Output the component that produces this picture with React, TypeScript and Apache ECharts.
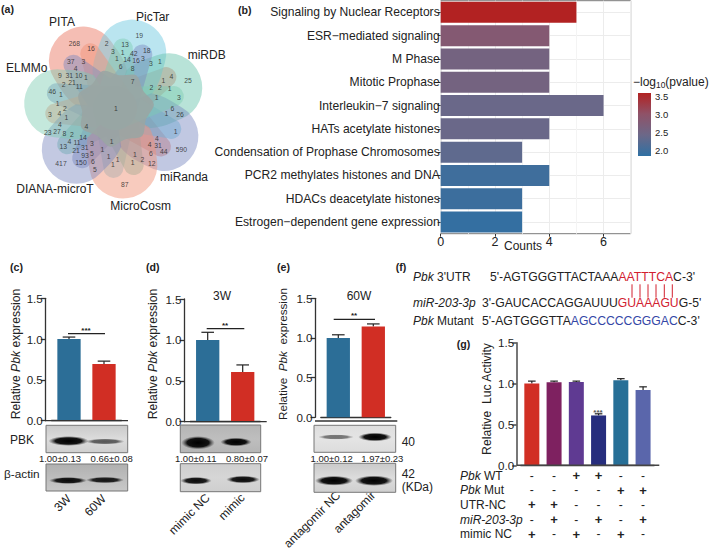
import React, { useEffect, useRef } from "react";
import * as echarts from "echarts";

const FONT = "Liberation Sans";
const DARK = "#222";

// (a) Venn
const vennSets = ["PITA", "PicTar", "miRDB", "miRanda", "MicroCosm", "DIANA-microT", "ELMMo"];
const vennColors = ["rgba(236,130,112,0.52)", "rgba(122,205,226,0.52)", "rgba(104,196,172,0.47)", "rgba(118,134,190,0.45)", "rgba(240,146,120,0.48)", "rgba(122,136,190,0.45)", "rgba(124,204,178,0.45)"];
const vennCounts = [19, 268, 16, 2, 13, 3, 1, 42, 18, 37, 3, 1, 14, 16, 3, 3, 1, 4, 6, 8, 9, 31, 10, 1, 4, 25, 7, 1, 2, 21, 11, 2, 2, 1, 46, 1, 1, 3, 1, 2, 1, 6, 3, 4, 1, 1, 26, 4, 4, 23, 27, 8, 2, 1, 4, 14, 4, 11, 1, 13, 3, 4, 31, 21, 31, 1, 590, 93, 5, 6, 44, 1, 1, 6, 150, 417, 1, 2, 1, 12, 1, 5, 87];
const vennLayoutX = [418, 223, 273, 320, 375, 339, 368, 401, 440, 212, 250, 351, 381, 408, 429, 453, 480, 227, 362, 398, 180, 208, 236, 258, 514, 564, 398, 490, 191, 216, 238, 454, 480, 509, 157, 183, 470, 537, 173, 195, 348, 517, 150, 178, 199, 499, 540, 180, 259, 143, 171, 193, 216, 527, 208, 249, 471, 231, 335, 190, 276, 449, 474, 228, 254, 307, 544, 255, 276, 453, 491, 405, 326, 279, 243, 183, 353, 427, 398, 455, 339, 285, 374];
const vennLayoutY = [105, 130, 145, 130, 133, 155, 157, 160, 152, 183, 183, 176, 179, 182, 175, 190, 184, 204, 198, 206, 226, 226, 226, 233, 229, 241, 243, 240, 252, 247, 260, 261, 261, 265, 274, 282, 291, 292, 311, 325, 324, 325, 342, 340, 351, 339, 342, 372, 378, 397, 395, 400, 403, 394, 425, 412, 415, 427, 425, 438, 431, 433, 436, 450, 442, 449, 447, 466, 459, 461, 453, 463, 470, 484, 488, 490, 479, 478, 486, 490, 493, 509, 554];

// (b) pathways
const pathways = ["Signaling by Nuclear Receptors", "ESR−mediated signaling", "M Phase", "Mitotic Prophase", "Interleukin−7 signaling", "HATs acetylate histones", "Condensation of Prophase Chromosomes", "PCR2 methylates histones and DNA", "HDACs deacetylate histones", "Estrogen−dependent gene expression"];
const pathwayCounts = [5, 4, 4, 4, 6, 4, 3, 4, 3, 3];
const pathwayLogP = [3.6, 2.85, 2.6, 2.6, 2.45, 2.45, 2.35, 2.05, 2.02, 1.95];
const colorTicks = [3.5, 3.0, 2.5, 2.0];
const colorStops = ["#2f70a3", "#6c6888", "#8f5268", "#b22222"];

// (c) (d) (e) qPCR
const cCats = ["3W", "60W"]; const cVals = [1.0, 0.695]; const cErr = [1.025, 0.73];
const dCats = ["mimic NC", "mimic"]; const dVals = [1.0, 0.608]; const dErr = [1.093, 0.694];
const eCats = ["antagomir NC", "antagomir"]; const eVals = [1.0, 1.145]; const eErr = [1.04, 1.177];
const cBlot = ["1.00±0.13", "0.66±0.08"]; const dBlot = ["1.00±0.11", "0.80±0.07"]; const eBlot = ["1.00±0.12", "1.97±0.23"];

// (g) luciferase
const gCats = ["1", "2", "3", "4", "5", "6"];
const gVals = [1.0, 1.015, 1.02, 0.61, 1.04, 0.92];
const gErr = [1.03, 1.03, 1.03, 0.63, 1.06, 0.96];
const gColors = ["#d12f24", "#7e2160", "#5f3a92", "#262d7d", "#276f97", "#5a66ab"];
const gRowNames = ["{i|Pbk} WT", "{i|Pbk} Mut", "UTR-NC", "{i|miR-203-3p}", "mimic NC"];
const gRows = [["-", "-", "+", "+", "-", "-"], ["-", "-", "-", "-", "+", "+"], ["+", "+", "-", "-", "-", "-"], ["-", "+", "-", "+", "-", "+"], ["+", "-", "+", "-", "+", "-"]];

const BLUE = "#2c6e97";
const RED = "#d12e24";

function capsule(deg: number, len: number, a: number, b: number) {
  const t = (deg * Math.PI) / 180;
  const dx = Math.sin(t), dy = -Math.cos(t);
  const nx = dy, ny = -dx;
  const ex = dx * len, ey = dy * len;
  return `M${nx * a} ${ny * a}L${ex + nx * b} ${ey + ny * b}A${b} ${b} 0 0 1 ${ex - nx * b} ${ey - ny * b}L${-nx * a} ${-ny * a}A${a} ${a} 0 0 1 ${nx * a} ${ny * a}Z`;
}
const lobe = "M0 0L-31 -24C-36 -38 -34 -48 -34 -58A34 33 0 0 1 34 -58C34 -48 36 -38 31 -24Z";
const petal = [lobe, capsule(93, 60, 22, 10), capsule(164, 60, 22, 10)].join("");
echarts.graphic.registerShape("vennPetal", echarts.graphic.extendPath(petal, {}) as any);

function T(text: string, x: number, y: number, o: any = {}) {
  const size = o.size ?? 12;
  const fw = o.bold ? "bold" : "normal";
  return {
    type: "text", x, y, z: o.z ?? 5, rotation: o.rot ?? 0,
    style: {
      text, fontFamily: FONT, fontSize: size, fontWeight: fw, fontStyle: o.italic ? "italic" : "normal",
      fill: o.color ?? DARK, textAlign: o.align ?? "center", textVerticalAlign: o.va ?? "middle",
      rich: {
        i: { fontFamily: FONT, fontSize: size, fontStyle: "italic", fill: o.color ?? DARK },
        r: { fontFamily: FONT, fontSize: size, fill: "#d2202f" },
        b: { fontFamily: FONT, fontSize: size, fill: "#3346a6" },
        s: { fontFamily: FONT, fontSize: size * 0.7, fill: DARK, verticalAlign: "bottom", padding: [6, 0, 0, 0] },
        n: { fontFamily: FONT, fontSize: size, fill: DARK },
      },
    },
  };
}
const L = (x1: number, y1: number, x2: number, y2: number, color = DARK, w = 1.2) => ({
  type: "line", z: 5, shape: { x1, y1, x2, y2 }, style: { stroke: color, lineWidth: w },
});

type Band = [number, number, number, number, number];
function blot(x1: number, y1: number, x2: number, y2: number, bands: Band[], bg = ["#c9c9c9", "#dcdcdc", "#cfcfcf"]) {
  const out: any[] = [{
    type: "rect", z: 3, shape: { x: x1, y: y1, width: x2 - x1, height: y2 - y1 },
    style: {
      stroke: "#777", lineWidth: 1,
      fill: new echarts.graphic.LinearGradient(0, 0, 0, 1, [{ offset: 0, color: bg[0] }, { offset: 0.5, color: bg[1] }, { offset: 1, color: bg[2] }]),
    },
  }];
  bands.forEach(([cx, cy, rx, ry, op]) => {
    out.push({
      type: "ellipse", z: 4, shape: { cx, cy, rx: rx * 1.12, ry: ry * 1.45 },
      style: {
        opacity: op,
        fill: new echarts.graphic.RadialGradient(0.5, 0.5, 0.5, [{ offset: 0, color: "rgba(0,0,0,1)" }, { offset: 0.65, color: "rgba(8,8,8,0.95)" }, { offset: 1, color: "rgba(60,60,60,0)" }]),
      },
    });
  });
  return out;
}

function App() {
  const ref = useRef<HTMLDivElement>(null);
  useEffect(() => {
    const chart = echarts.init(ref.current!, undefined, { renderer: "svg" });

    const grids: any[] = [
      { left: 0, top: 0, width: 709, height: 552 },
      { left: 440.7, top: 0.7, width: 190, height: 233, show: true, borderColor: "#7a7a7a", borderWidth: 1, backgroundColor: "#fff" },
      { left: 51.5, top: 298.3, width: 70, height: 122.4 },
      { left: 190.2, top: 299, width: 70, height: 122.7 },
      { left: 320.8, top: 298.3, width: 70, height: 122.7 },
      { left: 520.7, top: 342.7, width: 133.5, height: 122.6 },
    ];
    const hiddenX = { type: "value", gridIndex: 0, min: 0, max: 709, show: false };
    const hiddenY = { type: "value", gridIndex: 0, min: 0, max: 552, inverse: true, show: false };
    const lineStyle = { color: "#333", width: 1.3 };
    const gLine = { color: "#555", width: 1.6 };
    const barX = (g: number, cats: string[], margin: number) => ({
      type: "category", gridIndex: g, data: cats,
      axisLine: { show: true, lineStyle }, axisTick: { show: false },
      axisLabel: margin ? { rotate: 45, margin, fontFamily: FONT, fontSize: 12, color: DARK, interval: 0 } : { show: false },
    });
    const barY = (g: number, offset: number, ls: any = lineStyle) => ({
      type: "value", gridIndex: g, min: 0, max: 1.5, interval: 0.5, offset,
      axisLine: { show: true, lineStyle: ls }, axisTick: { show: true, length: 4.5, lineStyle: ls },
      splitLine: { show: false },
      axisLabel: { margin: 2.5, fontFamily: FONT, fontSize: 11.6, color: DARK, formatter: (v: number) => v.toFixed(1) },
    });

    const barSeries = (i: number, vals: number[], err: number[], colors: string[], bw: number, cap: number) => [
      {
        type: "bar", xAxisIndex: i, yAxisIndex: i, barWidth: bw,
        data: vals.map((v, k) => ({ value: v, itemStyle: { color: colors[k] } })),
      },
      {
        type: "custom", xAxisIndex: i, yAxisIndex: i, clip: false,
        encode: { x: 0, y: [1, 2] },
        data: vals.map((v, k) => [k, v, err[k]]),
        renderItem: (_: any, api: any) => {
          const a = api.coord([api.value(0), api.value(1)]);
          const b = api.coord([api.value(0), api.value(2)]);
          const st = { stroke: "#222", lineWidth: 1.2 };
          return {
            type: "group",
            children: [
              { type: "line", shape: { x1: a[0], y1: a[1], x2: b[0], y2: b[1] }, style: st },
              { type: "line", shape: { x1: b[0] - cap, y1: b[1], x2: b[0] + cap, y2: b[1] }, style: st },
            ],
          };
        },
      },
    ];

    const g: any[] = [];
    // venn
    vennSets.forEach((_, i) => {
      g.push({
        type: "vennPetal", x: 115, y: 108, z: 1, rotation: -((-34 + (i * 360) / 7) * Math.PI) / 180,
        style: { fill: vennColors[i] },
      });
    });
    const hubPts: number[][] = [];
    for (let k = 0; k < 14; k++) {
      const ang = ((33 + k * (360 / 14)) * Math.PI) / 180;
      const r = k % 2 === 0 ? 39 : 33;
      hubPts.push([115 + r * Math.sin(ang), 108 - r * Math.cos(ang)]);
    }
    g.push({ type: "polygon", z: 2, shape: { points: hubPts, smooth: 0.3 }, style: { fill: "rgba(154,165,163,0.88)" } });
    const names: [number, number][] = [[62, 21.7], [152.7, 16.7], [206.7, 55], [184, 176.7], [140.7, 206], [55, 189], [26.7, 67.7]];
    vennSets.forEach((n, i) => g.push(T(n, names[i][0], names[i][1], { size: 12 })));

    // panel letters
    ([["(a)", 1, 9], ["(b)", 238, 10], ["(c)", 10, 267], ["(d)", 146, 267], ["(e)", 277, 267], ["(f)", 395.7, 267], ["(g)", 456.7, 344]] as [string, number, number][])
      .forEach(([t, x, y]) => g.push(T(t, x, y, { size: 10.6, bold: true, align: "left" })));

    // colour bar
    g.push({
      type: "rect", z: 5, shape: { x: 638, y: 93, width: 13, height: 63 },
      style: {
        fill: new echarts.graphic.LinearGradient(0, 1, 0, 0, colorStops.map((c, i) => ({ offset: i / (colorStops.length - 1), color: c }))),
      },
    });
    colorTicks.forEach((v) => g.push(T(v.toFixed(1), 655, 96.5 + (3.5 - v) * 36, { size: 9.5, align: "left" })));
    g.push(T("{n|−log}{s|10}{n|(pvalue)}", 633, 82, { size: 12, align: "left" }));
    g.push(T("Counts", 523, 245.5, { size: 12 }));

    // y titles
    g.push(T("Relative {i|Pbk} expression", 15.7, 354, { rot: Math.PI / 2, size: 12.2 }));
    g.push(T("Relative {i|Pbk} expression", 152.7, 354, { rot: Math.PI / 2, size: 12.2 }));
    g.push(T("Relative  {i|Pbk}  expression", 282.7, 354, { rot: Math.PI / 2, size: 11.7 }));
    g.push(T("Relative  Luc Activity", 487.3, 399, { rot: Math.PI / 2, size: 12.2 }));

    // baselines
    g.push(L(45.3, 420.7, 128, 420.7, "#333", 1.3), L(184, 421.7, 266.7, 421.7, "#333", 1.3), L(315, 421, 397.3, 421, "#333", 1.3), L(516.7, 465.3, 659.3, 465.3, "#444", 1.5));

    // significance
    g.push(L(68, 333.7, 105, 333.7), T("***", 86, 330, { size: 8, bold: true }));
    g.push(L(206.7, 328.7, 244.3, 328.7), T("**", 225, 325.5, { size: 8, bold: true }));
    g.push(L(333.7, 319.3, 375, 319.3), T("**", 354, 315.5, { size: 8, bold: true }));
    g.push(T("***", 598, 412, { size: 8, color: "#555", bold: true }));

    g.push(T("3W", 222, 295.7, { size: 12 }), T("60W", 359, 296, { size: 12 }));

    // blots
    g.push(...blot(46, 425.3, 127.7, 452.7, [[68.5, 441, 18, 3.4, 1], [105, 441.5, 17.5, 2, 0.6]]));
    g.push(...blot(46, 464, 127.7, 491, [[68, 480.5, 17, 2.4, 0.95], [105, 480, 17, 2.2, 0.9]], ["#b0b0b0", "#bdbdbd", "#c8c8c8"]));
    g.push(...blot(180.3, 425, 260.7, 452.7, [[198, 442.7, 15, 4.6, 1], [236, 442, 14, 3, 1]], ["#b5b5b5", "#bebebe", "#b5b5b5"]));
    g.push(...blot(180.3, 463.7, 260.7, 491.7, [[196, 480.7, 14, 2.6, 0.95], [243, 479.5, 15, 2.6, 0.95]], ["#cfcfcf", "#d6d6d6", "#cfcfcf"]));
    g.push(...blot(314, 425.3, 395.7, 452.3, [[336, 437, 16, 1.8, 0.5], [375, 437, 15, 3, 1]], ["#dedede", "#e4e4e4", "#dcdcdc"]));
    g.push(...blot(314, 463.3, 395.7, 492.3, [[334, 480.7, 17, 3.4, 1], [374, 480.7, 17, 3.6, 1]]));

    g.push(T(cBlot[0], 60, 458, { size: 9.5 }), T(cBlot[1], 111.7, 458, { size: 9.5 }));
    g.push(T(dBlot[0], 195.7, 458, { size: 9.5 }), T(dBlot[1], 247, 458, { size: 9.5 }));
    g.push(T(eBlot[0], 331.7, 458, { size: 9.5 }), T(eBlot[1], 382.3, 458, { size: 9.5 }));
    g.push(T("PBK", 10, 440, { size: 12, align: "left" }), T("β-actin", 4, 474, { size: 11.8, align: "left" }));
    g.push(T("40", 401.7, 441.7, { size: 12, align: "left" }), T("42", 401.7, 474, { size: 12, align: "left" }), T("(KDa)", 401.7, 487, { size: 12, align: "left" }));

    // sequences
    const sz = 12.2;
    g.push(T("{i|Pbk} 3'UTR", 413, 277, { size: 12, align: "left" }));
    g.push(T("{i|miR-203-3p}", 413, 303, { size: 12, align: "left" }));
    g.push(T("{i|Pbk} Mutant", 413, 320.7, { size: 12, align: "left" }));
    g.push(T("{n|5'-AGTGGGTTACTAAA}{r|AATTTCA}{n|C-3'}", 490, 277, { size: sz, align: "left" }));
    g.push(T("{n|3'-GAUCACCAGGAUUU}{r|GUAAAGU}{n|G-5'}", 482, 303, { size: sz, align: "left" }));
    g.push(T("{n|5'-AGTGGGTTA}{b|AGCCCCCGGGAC}{n|C-3'}", 482, 320.7, { size: sz, align: "left" }));
    [632, 640, 648, 656, 664.3, 672.3].forEach((x) => g.push(L(x, 284.3, x, 297.7, "#d2202f", 1)));

    // luciferase table
    const rowY = [475.7, 490, 504.7, 519.7, 534.3];
    const colX = gCats.map((_, i) => 520.7 + (i + 0.5) * 22.25);
    gRowNames.forEach((n, r) => {
      g.push(T(n, 460, rowY[r], { size: 12, align: "left" }));
      gRows[r].forEach((s, c) => g.push(T(s, colX[c], rowY[r], { size: s === "+" ? 13 : 12, bold: s === "+" })));
    });

    const option: any = {
      animation: false,
      backgroundColor: "#fff",
      textStyle: { fontFamily: FONT },
      grid: grids,
      visualMap: {
        show: false, type: "continuous", seriesIndex: 1, dimension: 2, min: 1.9, max: 3.6,
        inRange: { color: colorStops },
      },
      xAxis: [
        hiddenX,
        {
          type: "value", gridIndex: 1, min: 0, max: 7, interval: 2, minorTick: { show: false, splitNumber: 2 },
          axisLine: { show: false }, axisTick: { show: true, length: 3, lineStyle: { color: "#333" } },
          splitLine: { show: true, lineStyle: { color: "#ececec", width: 1 } },
          minorSplitLine: { show: true, lineStyle: { color: "#f4f4f4", width: 1 } },
          axisLabel: { fontFamily: FONT, fontSize: 12.5, color: "#222", margin: 1.5, showMaxLabel: false, hideOverlap: false },
        },
        barX(2, cCats, 76), barX(3, dCats, 74), barX(4, eCats, 76), barX(5, gCats, 0),
      ],
      yAxis: [
        hiddenY,
        {
          type: "category", gridIndex: 1, data: pathways, inverse: true,
          axisLine: { show: false },
          axisTick: { show: true, length: 3, alignWithLabel: true, lineStyle: { color: "#333" } },
          splitLine: { show: true, alignWithLabel: true, lineStyle: { color: "#ececec", width: 1 } },
          axisLabel: { fontFamily: FONT, fontSize: 12.1, color: "#222", margin: 1, interval: 0 },
        },
        barY(2, 6.2), barY(3, 6.2), barY(4, 5.8), barY(5, 4, gLine),
      ],
      series: [
        {
          type: "scatter", xAxisIndex: 0, yAxisIndex: 0, symbolSize: 0, silent: true, z: 6,
          data: vennCounts.map((c, i) => [vennLayoutX[i] / 3, vennLayoutY[i] / 3, c]),
          label: { show: true, position: "inside", formatter: (p: any) => String(p.value[2]), fontFamily: FONT, fontSize: 6.8, color: "#222" },
        },
        {
          type: "bar", xAxisIndex: 1, yAxisIndex: 1, barWidth: "90%", encode: { x: 0, y: 1 },
          data: pathwayCounts.map((c, i) => [c, pathways[i], pathwayLogP[i]]),
        },
        ...barSeries(2, cVals, cErr, [BLUE, RED], 23.3, 6.3),
        ...barSeries(3, dVals, dErr, [BLUE, RED], 23.3, 6.3),
        ...barSeries(4, eVals, eErr, [BLUE, RED], 23.3, 6.3),
        ...barSeries(5, gVals, gErr, gColors, 15, 3.8),
      ],
      graphic: { elements: g },
    };
    chart.setOption(option);
    return () => chart.dispose();
  }, []);
  return <div ref={ref} style={{ position: "absolute", left: 0, top: 0, width: 709, height: 552 }} />;
}

export default App;
